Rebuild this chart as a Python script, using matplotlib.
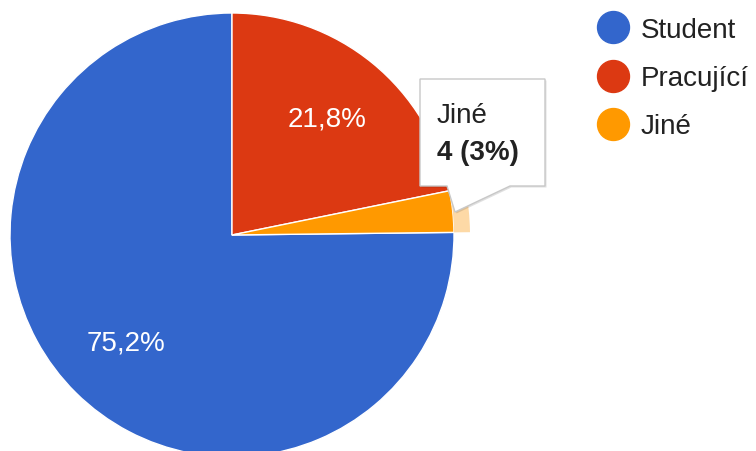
import matplotlib.pyplot as plt
from matplotlib.lines import Line2D
from matplotlib.patches import Polygon, Wedge

W, H = 756, 452

labels = ["Student", "Pracující", "Jiné"]
counts = [100, 29, 4]
colors = ["#3366cc", "#dc3912", "#ff9900"]
highlight = "Jiné"

plt.rcParams["font.family"] = ["Liberation Sans", "DejaVu Sans"]


def img(x, y):
    # image pixel coords (y down) -> axes data coords (y up)
    return x, H - y


def pct_label(p):
    return "" if p < 5 else f"{p:.1f}%".replace(".", ",")


fig = plt.figure(figsize=(W / 100, H / 100), dpi=100)
ax = fig.add_axes([0, 0, 1, 1])

center = img(232, 236)
radius = 222
total = sum(counts)
start = 360 * counts[0] / total - 270

wedges, _, autotexts = ax.pie(
    counts,
    colors=colors,
    center=center,
    radius=radius,
    startangle=start,
    counterclock=False,
    autopct=pct_label,
    pctdistance=0.68,
    wedgeprops=dict(edgecolor="white", linewidth=1),
    frame=True,
)
ax.set_xlim(0, W)
ax.set_ylim(0, H)
ax.set_aspect("equal")
ax.axis("off")
for t in autotexts:
    t.set_color("white")
    t.set_fontsize(20)

# hover halo on the highlighted slice
hi = labels.index(highlight)
hw = wedges[hi]
ax.add_patch(Wedge(center, radius + 16, hw.theta1, hw.theta2, width=16,
                   facecolor="#fdd9a6", edgecolor="none", zorder=3))

# tooltip
tip = [img(420, 80), img(545, 80), img(545, 187), img(510, 187),
       img(455, 213), img(447, 187), img(420, 187)]
shadow = [(x + 1.5, y - 1.5) for x, y in tip]
ax.add_patch(Polygon(shadow, closed=True, facecolor="#000000", alpha=0.12,
                     edgecolor="none", zorder=4))
ax.add_patch(Polygon(tip, closed=True, facecolor="white", edgecolor="#c8c8c8",
                     linewidth=1, zorder=5))
ax.text(*img(437, 116), labels[hi], fontsize=20, color="#222222",
        ha="left", va="center", zorder=6)
ax.text(*img(437, 153), f"{counts[hi]} ({round(100 * counts[hi] / total)}%)",
        fontsize=20, fontweight="bold", color="#222222",
        ha="left", va="center", zorder=6)

# legend
handles = [Line2D([], [], marker="o", linestyle="none", markersize=23,
                  markerfacecolor=c, markeredgecolor=c) for c in colors]
ax.legend(handles, labels, loc="upper left",
          bbox_to_anchor=(596 / W, 1 - 18 / H), bbox_transform=fig.transFigure,
          frameon=False, fontsize=20, borderpad=0, borderaxespad=0,
          handlelength=1.2, handletextpad=0.4, labelspacing=0.8,
          labelcolor="#222222")

fig.savefig("out.png", dpi=100, facecolor="white")
